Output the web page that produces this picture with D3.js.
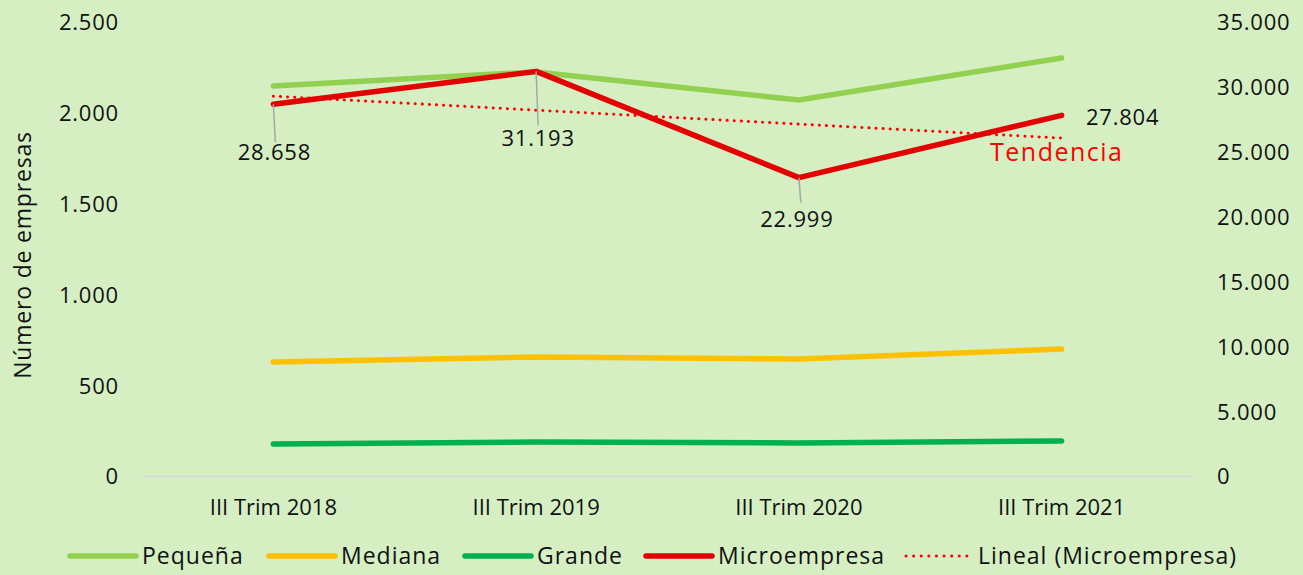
<!DOCTYPE html>
<html>
<head>
  <meta charset="utf-8">
  <script src="https://d3js.org/d3.v7.min.js"></script>
  <style>
    body { margin: 0; background: #d5efc3; }
    svg text { font-family: "Open Sans", "Lato", sans-serif; fill: #111; }
  </style>
</head>
<body>
<script>
  // datos
  var categories = ["III Trim 2018", "III Trim 2019", "III Trim 2020", "III Trim 2021"];
  var pequena = [2148, 2225, 2070, 2302];
  var mediana = [628, 655, 644, 699];
  var grande = [176, 187, 182, 193];
  var micro = [28658, 31193, 22999, 27804];
  var microLabels = ["28.658", "31.193", "22.999", "27.804"];
  var trend = [29280, 26050];   // lineal (microempresa), primer y ultimo trimestre
  var leftTicks = [0, 500, 1000, 1500, 2000, 2500];
  var rightTicks = [0, 5000, 10000, 15000, 20000, 25000, 30000, 35000];

  var W = 1303, H = 575;
  var plotL = 142, plotR = 1193, plotT = 22, plotB = 476;

  var svg = d3.select("body").append("svg")
      .attr("width", W).attr("height", H);

  svg.append("rect").attr("width", W).attr("height", H).attr("fill", "#d5efc3");

  var x = d3.scaleBand().domain(categories).range([plotL, plotR]);
  var yL = d3.scaleLinear().domain([0, 2500]).range([plotB, plotT]);
  var yR = d3.scaleLinear().domain([0, 35000]).range([plotB, plotT]);

  var fmt = function(d) { return d3.format(",")(d).replace(/,/g, "."); };

  // ejes
  var gL = svg.append("g").attr("transform", "translate(" + (plotL - 23) + ",0)")
      .call(d3.axisLeft(yL).tickValues(leftTicks).tickFormat(fmt).tickSize(0).tickPadding(0));
  var gR = svg.append("g").attr("transform", "translate(" + (plotR + 24) + ",0)")
      .call(d3.axisRight(yR).tickValues(rightTicks).tickFormat(fmt).tickSize(0).tickPadding(0));
  [gL, gR].forEach(function(g) {
    g.select(".domain").remove();
    g.selectAll("text").style("font-size", "22px").style("letter-spacing", "0.8px")
        .attr("dy", "0.36em").attr("fill", "#111");
  });

  var gX = svg.append("g").attr("transform", "translate(0," + plotB + ")")
      .call(d3.axisBottom(x).tickSize(0).tickPadding(23));
  gX.select(".domain").attr("stroke", "#d9d9d9").attr("stroke-width", 2);
  gX.selectAll("text").style("font-size", "22px").attr("fill", "#111");

  svg.append("text")
      .attr("transform", "translate(31,255) rotate(-90)")
      .attr("text-anchor", "middle")
      .style("font-size", "23px")
      .style("letter-spacing", "0.8px")
      .text("Número de empresas");

  function cx(i) { return x(categories[i]) + x.bandwidth() / 2; }

  function drawLine(vals, scale, color) {
    var line = d3.line().x(function(d, i) { return cx(i); }).y(function(d) { return scale(d); });
    svg.append("path").datum(vals)
        .attr("d", line)
        .attr("fill", "none")
        .attr("stroke", color)
        .attr("stroke-width", 5.5)
        .attr("stroke-linecap", "round")
        .attr("stroke-linejoin", "round");
  }

  drawLine(pequena, yL, "#92d050");
  drawLine(mediana, yL, "#ffc000");
  drawLine(grande, yL, "#00b050");

  // tendencia
  svg.append("line")
      .attr("x1", cx(0)).attr("y1", yR(trend[0]))
      .attr("x2", cx(3)).attr("y2", yR(trend[1]))
      .attr("stroke", "#ff0000")
      .attr("stroke-width", 3)
      .attr("stroke-dasharray", "0.1 7")
      .attr("stroke-linecap", "round");

  drawLine(micro, yR, "#e30000");

  // etiquetas de datos con lineas guia
  var labelPos = [
    { dx: 1, dy: 48, lead: 38 },
    { dx: 2, dy: 67, lead: 54 },
    { dx: -2, dy: 41, lead: 25 },
    { dx: 61, dy: 2, lead: 0 }
  ];
  micro.forEach(function(v, i) {
    var px = cx(i), py = yR(v), p = labelPos[i];
    if (p.lead > 0) {
      svg.append("line")
          .attr("x1", px).attr("y1", py)
          .attr("x2", px + 2).attr("y2", py + p.lead)
          .attr("stroke", "#a6a6a6").attr("stroke-width", 1.5);
    }
    svg.append("text")
        .attr("x", px + p.dx).attr("y", py + p.dy + 8)
        .attr("text-anchor", "middle")
        .style("font-size", "22px")
        .style("letter-spacing", "0.8px")
        .text(microLabels[i]);
  });

  svg.append("text")
      .attr("x", 990).attr("y", 161)
      .style("font-size", "25px")
      .style("letter-spacing", "1.5px")
      .style("fill", "#ff0000")
      .text("Tendencia");

  // leyenda
  var legend = [
    { name: "Pequeña", color: "#92d050", x: 70, dotted: false },
    { name: "Mediana", color: "#ffc000", x: 269, dotted: false },
    { name: "Grande", color: "#00b050", x: 465, dotted: false },
    { name: "Microempresa", color: "#e30000", x: 646, dotted: false },
    { name: "Lineal (Microempresa)", color: "#ff0000", x: 906, dotted: true }
  ];
  var ly = 556;
  legend.forEach(function(d) {
    svg.append("line")
        .attr("x1", d.x).attr("y1", ly)
        .attr("x2", d.x + 66).attr("y2", ly)
        .attr("stroke", d.color)
        .attr("stroke-width", d.dotted ? 3 : 5.5)
        .attr("stroke-dasharray", d.dotted ? "0.1 7.5" : null)
        .attr("stroke-linecap", "round");
    svg.append("text")
        .attr("x", d.x + 72).attr("y", ly + 8)
        .style("font-size", "23px")
        .style("letter-spacing", "1px")
        .text(d.name);
  });
</script>
</body>
</html>
